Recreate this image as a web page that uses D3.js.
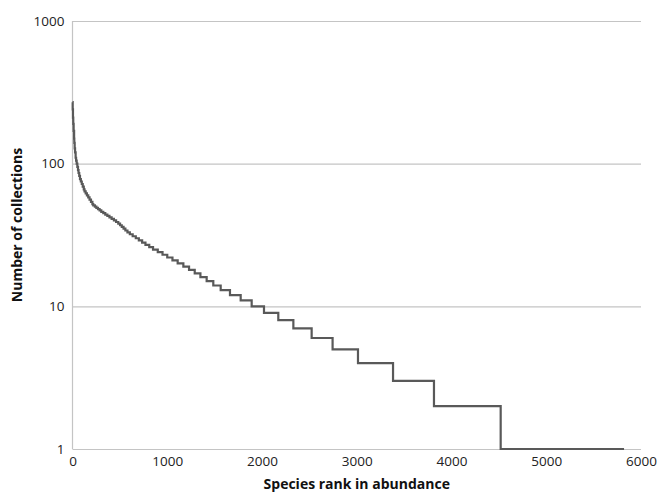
<!DOCTYPE html>
<html>
<head>
<meta charset="utf-8">
<script src="https://cdn.jsdelivr.net/npm/d3@7"></script>
<style>
  body { margin: 0; background: #fff; }
  #chart { width: 661px; height: 493px; }
</style>
</head>
<body>
<div id="chart"></div>
<script>
// first rank at which each count level starts
const levelStartRank = [0, 2, 5, 8, 12, 17, 19, 23, 27, 33, 38, 44, 51, 58, 64, 71, 79, 88, 98, 108, 119, 127, 139, 152, 166, 180, 195, 210, 219, 236, 252, 269, 286, 304, 325, 346, 368, 390, 413, 437, 460, 483, 502, 520, 539, 558, 580, 605, 635, 668, 700, 735, 770, 810, 850, 900, 950, 1000, 1055, 1110, 1170, 1230, 1290, 1350, 1416, 1486, 1564, 1662, 1775, 1891, 2021, 2172, 2331, 2524, 2745, 3013, 3383, 3815, 4519];
const levelCount = [270, 240, 210, 190, 170, 150, 140, 128, 120, 110, 105, 100, 95, 90, 86, 82, 78, 75, 72, 69, 66, 64, 62, 60, 58, 56, 54, 52, 51, 50, 49, 48, 47, 46, 45, 44, 43, 42, 41, 40, 39, 38, 37, 36, 35, 34, 33, 32, 31, 30, 29, 28, 27, 26, 25, 24, 23, 22, 21, 20, 19, 18, 17, 16, 15, 14, 13, 12, 11, 10, 9, 8, 7, 6, 5, 4, 3, 2, 1];
const lastRank = 5821;

const xTicks = [0, 1000, 2000, 3000, 4000, 5000, 6000];
const yTicks = [1, 10, 100, 1000];

const width = 661;
const height = 493;
const margin = { left: 72.5, right: 20, top: 21, bottom: 44 };

const svg = d3.select("#chart")
    .append("svg")
    .attr("width", width)
    .attr("height", height);

const x = d3.scaleLinear()
    .domain([0, 6000])
    .range([margin.left, width - margin.right]);

const y = d3.scaleLog()
    .domain([1, 1000])
    .range([height - margin.bottom, margin.top]);

const fontFamily = "'Open Sans', 'Liberation Sans', sans-serif";

// horizontal gridlines + y labels
const yAxis = svg.append("g")
    .attr("transform", "translate(" + margin.left + ",0)")
    .call(d3.axisLeft(y)
        .tickValues(yTicks)
        .tickFormat(d3.format("d"))
        .tickSize(-(x.range()[1] - x.range()[0]))
        .tickPadding(8));
yAxis.select(".domain").remove();
yAxis.selectAll(".tick line")
    .attr("stroke", "#c4c4c4")
    .attr("stroke-width", 1.2);
yAxis.selectAll(".tick text")
    .attr("fill", "#222")
    .style("font-family", fontFamily)
    .style("font-size", "13.5px");

// vertical axis line
svg.append("line")
    .attr("x1", margin.left).attr("x2", margin.left)
    .attr("y1", y(1000)).attr("y2", y(1))
    .attr("stroke", "#c4c4c4")
    .attr("stroke-width", 1.2);

// x axis labels
const xAxis = svg.append("g")
    .attr("transform", "translate(0," + y(1) + ")")
    .call(d3.axisBottom(x)
        .tickValues(xTicks)
        .tickFormat(d3.format("d"))
        .tickSize(0)
        .tickPadding(7));
xAxis.select(".domain").remove();
xAxis.selectAll(".tick text")
    .attr("fill", "#222")
    .style("font-family", fontFamily)
    .style("font-size", "13.5px");

// step data
const points = levelStartRank.map((r, i) => [r, levelCount[i]]);
points.push([lastRank, levelCount[levelCount.length - 1]]);

const line = d3.line()
    .x(d => x(d[0]))
    .y(d => y(d[1]))
    .curve(d3.curveStepAfter);

svg.append("path")
    .datum(points)
    .attr("fill", "none")
    .attr("stroke", "#595959")
    .attr("stroke-width", 2.2)
    .attr("d", line);

// axis titles
svg.append("text")
    .attr("x", (x(0) + x(6000)) / 2)
    .attr("y", 489)
    .attr("text-anchor", "middle")
    .attr("fill", "#111")
    .style("font-family", fontFamily)
    .style("font-weight", "bold")
    .style("font-size", "14px")
    .text("Species rank in abundance");

svg.append("text")
    .attr("transform", "translate(22," + 225 + ") rotate(-90)")
    .attr("text-anchor", "middle")
    .attr("fill", "#111")
    .style("font-family", fontFamily)
    .style("font-weight", "bold")
    .style("font-size", "14px")
    .text("Number of collections");
</script>
</body>
</html>
